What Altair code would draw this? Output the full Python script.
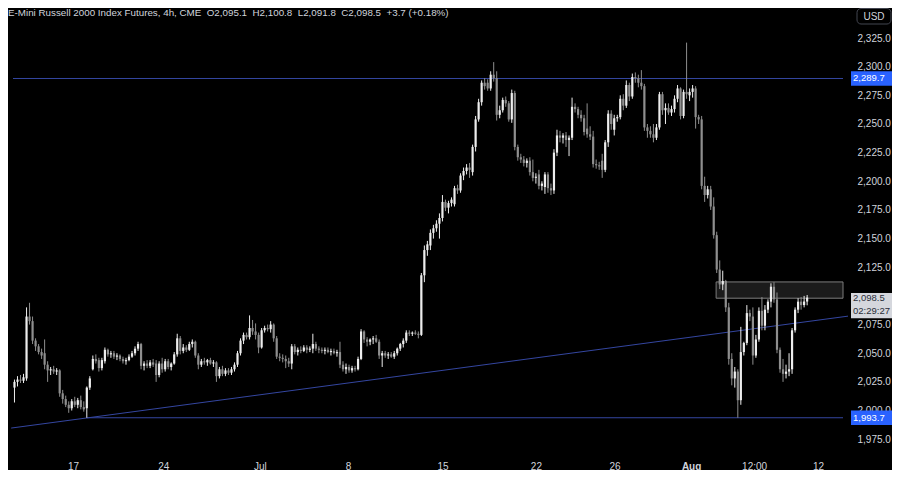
import altair as alt
import pandas as pd
import numpy as np

# ---------------- data (4h candles) ----------------
opens = [2020,2025,2027,2026,2028,2082,2078,2061,2056,2051,2050,2040,2035,2036,2034,2035,2015,2010,2005,2002,
         2008,2005,2009,2003,2002,2020,2036,2045,2044,2037,2043,2053,2049,2050,2047,2048,2045,2043,2044,2047,
         2050,2054,2058,2039,2041,2039,2042,2041,2031,2041,2036,2043,2038,2041,2049,2063,2052,2055,2053,2058,
         2060,2048,2040,2043,2042,2044,2041,2042,2030,2036,2032,2035,2033,2036,2040,2050,2061,2066,2064,2072,
         2069,2066,2055,2070,2072,2071,2075,2063,2047,2046,2045,2043,2041,2056,2051,2053,2052,2055,2053,2054,
         2058,2054,2053,2052,2053,2051,2052,2050,2051,2040,2036,2038,2035,2037,2036,2045,2069,2062,2060,2062,
         2063,2060,2048,2050,2048,2049,2047,2050,2054,2058,2061,2068,2067,2068,2067,2066,2118,2140,2144,2155,
         2159,2163,2168,2182,2177,2181,2180,2194,2192,2205,2209,2212,2208,2230,2254,2269,2286,2286,2281,2293,
         2290,2258,2262,2271,2268,2254,2277,2230,2221,2219,2216,2218,2208,2203,2206,2196,2195,2206,2194,2192,
         2225,2240,2238,2240,2236,2238,2265,2263,2258,2255,2246,2241,2239,2215,2214,2218,2210,2234,2259,2245,
         2255,2256,2272,2266,2284,2274,2291,2290,2286,2283,2247,2244,2241,2238,2247,2276,2262,2264,2260,2263,
         2272,2281,2257,2278,2275,2278,2281,2256,2254,2196,2188,2193,2178,2153,2123,2110,2113,2090,2045,2028,
         2034,2009,2051,2059,2085,2082,2048,2062,2087,2074,2088,2095,2108,2097,2053,2036,2032,2034,2036,2070,
         2088,2095,2092,2095.1]
highs = [2027,2030,2031,2032,2090,2094,2082,2063,2058,2054,2062,2043,2038,2039,2037,2036,2018,2013,2008,2010,
         2012,2011,2013,2008,2021,2030,2048,2049,2046,2046,2055,2054,2052,2052,2050,2049,2047,2046,2049,2052,
         2056,2060,2059,2043,2044,2044,2045,2044,2043,2046,2045,2045,2042,2051,2067,2065,2058,2057,2060,2062,
         2061,2050,2045,2046,2045,2046,2044,2043,2038,2039,2037,2037,2038,2042,2052,2063,2068,2068,2083,2079,
         2076,2068,2072,2074,2075,2078,2076,2065,2050,2049,2048,2046,2058,2058,2055,2056,2057,2057,2056,2067,
         2060,2056,2055,2055,2055,2054,2054,2053,2060,2043,2041,2040,2039,2039,2047,2071,2070,2064,2063,2065,
         2066,2062,2052,2052,2051,2051,2052,2055,2059,2063,2070,2070,2069,2070,2069,2120,2144,2148,2158,2162,
         2166,2172,2188,2184,2183,2186,2196,2197,2207,2212,2215,2216,2232,2257,2272,2288,2290,2289,2296,2304,
         2296,2266,2273,2274,2270,2280,2279,2232,2224,2222,2220,2221,2219,2207,2210,2200,2208,2208,2198,2228,
         2245,2244,2242,2243,2240,2273,2268,2265,2262,2258,2268,2248,2244,2219,2217,2224,2236,2262,2262,2258,
         2258,2275,2276,2288,2286,2294,2295,2293,2297,2285,2250,2248,2250,2250,2278,2278,2268,2268,2266,2275,
         2284,2282,2280,2321,2281,2284,2283,2258,2257,2204,2196,2196,2186,2156,2131,2122,2114,2094,2050,2038,
         2036,2073,2060,2092,2088,2090,2066,2090,2099,2092,2097,2111,2112,2103,2055,2045,2040,2050,2072,2090,
         2098,2099,2100,2100.8]
lows = [2007,2021,2024,2024,2026,2075,2058,2052,2049,2045,2036,2025,2031,2032,2031,2012,2006,2003,1998,2000,
        2003,2002,2001,1999,1993.7,2018,2035,2041,2034,2035,2041,2047,2046,2045,2044,2043,2041,2040,2043,2046,
        2048,2052,2036,2035,2037,2037,2038,2025,2029,2033,2034,2036,2035,2040,2047,2049,2050,2051,2052,2055,
        2046,2036,2038,2040,2039,2040,2038,2025,2028,2030,2030,2031,2031,2034,2038,2048,2058,2062,2062,2066,
        2062,2050,2054,2068,2069,2068,2060,2045,2043,2042,2037,2038,2036,2049,2048,2050,2051,2050,2051,2050,
        2052,2050,2050,2049,2050,2048,2049,2047,2037,2034,2032,2033,2033,2034,2035,2044,2059,2056,2057,2058,
        2059,2045,2038,2046,2045,2046,2045,2048,2052,2055,2059,2065,2065,2066,2063,2065,2112,2135,2140,2150,
        2156,2150,2165,2174,2172,2178,2178,2189,2190,2201,2206,2203,2205,2226,2252,2266,2280,2279,2279,2287,
        2253,2255,2260,2265,2252,2251,2227,2218,2216,2213,2212,2205,2200,2198,2193,2192,2189,2190,2188,2189,
        2222,2234,2233,2230,2222,2236,2260,2255,2252,2240,2238,2236,2212,2211,2210,2203,2208,2230,2245,2240,
        2252,2254,2262,2264,2270,2272,2286,2282,2280,2244,2238,2238,2234,2236,2245,2258,2250,2258,2257,2260,
        2269,2254,2255,2272,2270,2273,2246,2250,2193,2182,2185,2175,2150,2120,2106,2105,2086,2040,2022,2020,
        1993.7,2005,2048,2057,2078,2040,2046,2060,2070,2070,2085,2090,2094,2050,2033,2025,2028,2030,2032,2068,
        2085,2088,2090,2091.8]
closes = [2025,2027,2026,2029,2082,2078,2061,2056,2051,2048,2040,2035,2036,2034,2035,2015,2010,2005,2002,2008,
          2005,2009,2003,2001,2020,2028,2045,2043,2037,2044,2053,2049,2050,2047,2048,2045,2043,2044,2047,2050,
          2054,2058,2039,2041,2039,2042,2040,2031,2041,2036,2043,2038,2041,2049,2063,2052,2055,2053,2058,2060,
          2048,2040,2043,2042,2044,2041,2042,2030,2036,2032,2035,2033,2036,2040,2050,2061,2066,2064,2072,2069,
          2066,2055,2070,2072,2071,2075,2063,2047,2046,2045,2043,2041,2056,2051,2053,2052,2055,2053,2054,2058,
          2054,2053,2052,2053,2051,2052,2050,2051,2040,2036,2038,2035,2037,2036,2045,2069,2062,2060,2062,2063,
          2060,2048,2050,2048,2049,2047,2050,2054,2058,2061,2068,2067,2068,2067,2066,2118,2140,2145,2155,2159,
          2163,2168,2182,2177,2181,2184,2194,2192,2205,2209,2212,2210,2230,2254,2269,2286,2283,2281,2293,2290,
          2258,2262,2271,2268,2254,2277,2230,2221,2219,2216,2218,2208,2203,2204,2196,2198,2206,2194,2192,2225,
          2240,2238,2240,2236,2238,2265,2263,2258,2255,2243,2241,2239,2215,2214,2213,2210,2234,2259,2250,2255,
          2256,2272,2266,2284,2274,2291,2290,2286,2283,2247,2244,2241,2238,2247,2276,2262,2264,2260,2263,2272,
          2281,2257,2278,2276,2278,2281,2256,2254,2196,2188,2193,2178,2153,2123,2110,2113,2090,2045,2028,2034,
          2009,2051,2059,2085,2082,2048,2062,2087,2074,2088,2095,2108,2097,2053,2036,2032,2034,2036,2070,2088,
          2095,2092,2095.1,2098.5]

tick_pos = [19.4, 49.4, 81.4, 110.7, 142.0, 173.0, 199.1, 224.5, 245.4, 266.6]
tick_labels = ["17", "24", "Jul", "8", "15", "22", "26", "Aug", "12:00", "12"]
# 2,100.0 sits under the live-price tag in the reference, so it is not listed
price_ticks = [1975, 2000, 2025, 2050, 2075, 2125, 2150, 2175, 2200, 2225, 2250, 2275, 2300, 2325]

resistance = 2289.7
support = 1993.7
support_start = 24
trend_x = [-1.1, 276.7]
trend_y = [1984.7, 2082.4]
zone_x0 = 232.8
zone_low, zone_high = 2098.0, 2112.2
last_price = 2098.5
countdown = "02:29:27"
title_parts = ["E-Mini Russell 2000 Index Futures, 4h, CME", "O2,095.1", "H2,100.8", "L2,091.8", "C2,098.5",
               "+3.7 (+0.18%)"]

# ---------------- layout / style ----------------
W, H = 840, 447
PAD_R, PAD_B = 44, 15
X_MIN, X_MAX = -0.49, 274.9
Y_MIN, Y_MAX = 1961.2, 2351.2
FONT = "Liberation Sans Narrow, Liberation Sans, Arial, sans-serif"
TXT = "#d1d4dc"
LINE = "#3446a0"
UP, DOWN = "#ededed", "#8e8e8e"

df = pd.DataFrame({"i": np.arange(len(opens)), "o": opens, "h": highs, "l": lows, "c": closes})
df["dir"] = np.where(df["c"] >= df["o"], "up", "down")

xs = alt.Scale(domain=[X_MIN, X_MAX], nice=False, zero=False)
ys = alt.Scale(domain=[Y_MIN, Y_MAX], nice=False, zero=False)

label_expr = "".join(f"abs(datum.value - {p}) < 0.01 ? '{l}' : " for p, l in zip(tick_pos, tick_labels)) + "''"
aug_pos = tick_pos[tick_labels.index("Aug")]
xaxis = alt.Axis(values=tick_pos, labelExpr=label_expr, title=None, labelPadding=6, labelOverlap=False, zindex=0,
                 labelFontWeight={"condition": {"test": f"abs(datum.value - {aug_pos}) < 0.01", "value": "bold"},
                                  "value": "normal"})
yaxis = alt.Axis(orient="right", values=price_ticks, format=",.1f", title=None, labelPadding=9,
                 labelOverlap=False, labelSeparation=0, zindex=0)


def X(field):
    return alt.X(field, scale=xs, axis=xaxis)


def Y(field):
    return alt.Y(field, scale=ys, axis=yaxis)


col = alt.Color("dir:N", scale=alt.Scale(domain=["up", "down"], range=[UP, DOWN]), legend=None)

wicks = alt.Chart(df).mark_rule(strokeWidth=1).encode(x=X("i:Q"), y=Y("l:Q"), y2="h:Q", color=col)
bodies = alt.Chart(df).mark_bar(size=2.2).encode(x=X("i:Q"), y=Y("o:Q"), y2="c:Q", color=col)

zone = alt.Chart(pd.DataFrame({"x1": [zone_x0], "x2": [X_MAX], "y1": [zone_low], "y2": [zone_high]})).mark_rect(
    fill="#1b1b1b", stroke="#7d7d7d", strokeWidth=1).encode(x=X("x1:Q"), x2="x2:Q", y=Y("y1:Q"), y2="y2:Q")

hlines = alt.Chart(pd.DataFrame({"x1": [X_MIN, support_start], "x2": [X_MAX, X_MAX],
                                 "y": [resistance, support]})).mark_rule(color=LINE, strokeWidth=1).encode(
    x=X("x1:Q"), x2="x2:Q", y=Y("y:Q"))

trend = alt.Chart(pd.DataFrame({"x1": [trend_x[0]], "x2": [trend_x[1]], "y1": [trend_y[0]], "y2": [trend_y[1]]})).mark_rule(
    color=LINE, strokeWidth=1, clip=True).encode(x=X("x1:Q"), x2="x2:Q", y=Y("y1:Q"), y2="y2:Q")

# right-hand price tags
tags = pd.DataFrame({
    "top": [resistance + 6.3, support + 6.3, last_price + 4.0],
    "bot": [resistance - 6.3, support - 6.3, last_price - 18.0],
    "bg": ["#2962ff", "#2962ff", "#d5d7dd"],
})
tag_rect = alt.Chart(tags).mark_rect().encode(
    x=alt.value(W + 3), x2=alt.value(W + PAD_R),
    y=Y("top:Q"), y2="bot:Q",
    fill=alt.Fill("bg:N", scale=None))
tag_txt = pd.DataFrame({
    "p": [resistance, support, last_price - 0.6, last_price - 11.5],
    "t": [f"{resistance:,.1f}", f"{support:,.1f}", f"{last_price:,.1f}", countdown],
    "fg": ["#ffffff", "#ffffff", "#2a2e39", "#2a2e39"],
})
tag_text = alt.Chart(tag_txt).mark_text(align="left", baseline="middle", font=FONT, fontSize=9.5).encode(
    x=alt.value(W + 5), y=Y("p:Q"), text="t:N", color=alt.Color("fg:N", scale=None))

usd = pd.DataFrame({"t": ["USD"]})
usd_box = alt.Chart(usd).mark_rect(fill="#000000", stroke="#434651", strokeWidth=1, cornerRadius=4).encode(
    x=alt.value(W + 9), x2=alt.value(W + 43), y=alt.value(0.5), y2=alt.value(16))
usd_text = alt.Chart(usd).mark_text(align="center", baseline="middle", font=FONT, fontSize=10, color=TXT).encode(
    x=alt.value(W + 26), y=alt.value(8.5), text="t:N")

title_text = "\u00a0\u00a0".join(title_parts)
title = alt.Chart(pd.DataFrame({"t": [title_text]})).mark_text(
    align="left", baseline="middle", font=FONT, fontSize=9.8, color=TXT).encode(
    x=alt.value(0), y=alt.value(5), text="t:N")

chart = alt.layer(zone, hlines, trend, wicks, bodies, tag_rect, tag_text, usd_box, usd_text, title).properties(
    width=W, height=H, background="#000000",
    padding={"left": 0, "top": 0, "right": PAD_R, "bottom": PAD_B},
    autosize=alt.AutoSizeParams(type="none")
).configure_view(stroke=None).configure_axis(
    grid=False, domain=False, ticks=False, labelColor=TXT, labelFont=FONT, labelFontSize=10, labelOverlap=False
)

chart.save("out.html", embed_options={"renderer": "svg", "actions": False})
